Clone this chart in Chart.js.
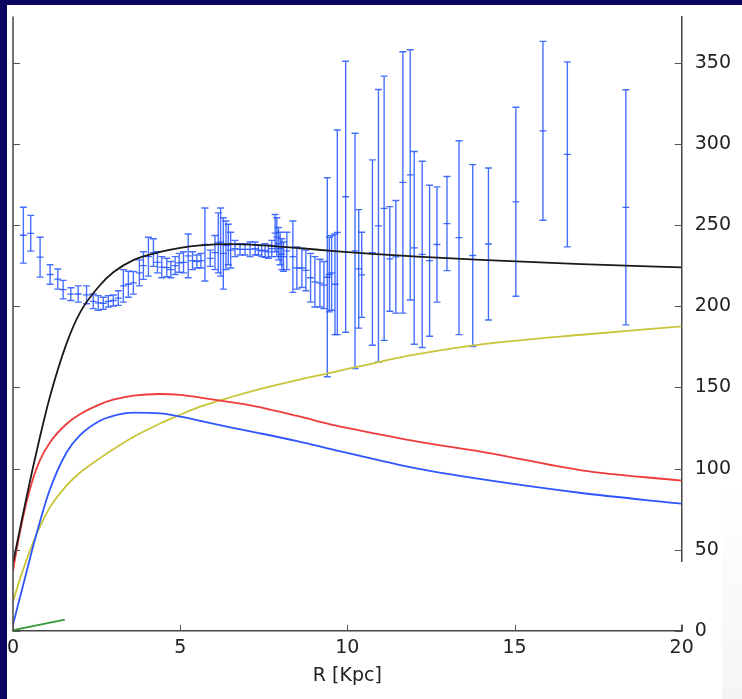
<!DOCTYPE html>
<html>
<head>
<meta charset="utf-8">
<title>Rotation curve</title>
<script src="https://cdn.jsdelivr.net/npm/chart.js@4.4.0/dist/chart.umd.min.js"></script>
<style>
  html, body { margin: 0; padding: 0; background: #fff; }
  #wrap { position: relative; width: 742px; height: 699px; overflow: hidden; }
  #rotation { position: absolute; left: 0; top: 0; }
  #frameTop { position: absolute; left: 0; top: 0; width: 742px; height: 5px; background: #0b0662; }
  #frameLeft { position: absolute; left: 0; top: 0; width: 7px; height: 699px; background: #0b0662; }
  #shade { position: absolute; right: 0; top: 480px; width: 20px; height: 219px;
           background: linear-gradient(to bottom, rgba(0,0,0,0), rgba(0,0,0,0.04)); }
</style>
</head>
<body>
<div id="wrap">
  <canvas id="rotation" width="742" height="699"></canvas>
  <div id="shade"></div>
  <div id="frameTop"></div>
  <div id="frameLeft"></div>
</div>
<script>
// Observed rotation speeds (km/s) with symmetric errors, radius in kpc
const errR = [0.31, 0.53, 0.81, 1.11, 1.34, 1.5, 1.73, 1.95, 2.2, 2.4,
              2.55, 2.7, 2.85, 3.0, 3.15, 3.3, 3.45, 3.6, 3.78, 3.9,
              4.05, 4.2, 4.32, 4.45, 4.6, 4.72, 4.85, 4.97, 5.1, 5.24,
              5.37, 5.5, 5.62, 5.74, 5.9, 6.04, 6.14, 6.21, 6.29, 6.37,
              6.44, 6.51, 6.64, 6.79, 6.94, 7.09, 7.24, 7.34, 7.44, 7.54,
              7.64, 7.74, 7.84, 7.89, 7.94, 7.99, 8.04, 8.09, 8.19, 8.37,
              8.49, 8.64, 8.76, 8.9, 9.03, 9.18, 9.3, 9.4, 9.46, 9.53,
              9.63, 9.7, 9.95, 10.23, 10.34, 10.43, 10.75, 10.93, 11.1, 11.27,
              11.45, 11.66, 11.88, 12.0, 12.24, 12.46, 12.68, 12.98, 13.34, 13.75,
              14.22, 15.04, 15.85, 16.58, 18.33];
const errV = [243.8, 245, 230.3, 219.6, 216.8, 210.3, 207.5, 207.6, 207.1, 203.1,
              202.1, 201.9, 203.1, 203.6, 205.1, 212.6, 213.6, 214.5, 220.6, 225.1,
              230.6, 233.1, 227.1, 224.1, 223.9, 222.6, 225.1, 226.8, 227.1, 231.1,
              228.1, 227.6, 228.1, 238.1, 229.6, 233.1, 239.1, 239.6, 232.6, 237.6,
              238.1, 234.6, 235.6, 235.1, 235.1, 235.1, 235.6, 234.6, 234.1, 234.4,
              233.6, 235.6, 245.1, 242.6, 238.6, 235.6, 232.1, 230.6, 234.1, 230.6,
              223.6, 223.6, 222.1, 217.6, 215.1, 214.3, 213.1, 217.9, 219.6, 220.6,
              213.6, 245.6, 267.5, 234.1, 223.1, 219.4, 233.1, 249.6, 260.4, 229.2,
              230.5, 276.3, 281, 236, 232, 228.1, 238.1, 251, 242.3, 231.3,
              238.4, 264.4, 308.1, 293.6, 261];
const errE = [17.2, 11, 12.3, 6, 6.2, 5.7, 3.9, 5, 5.5, 4.5,
              4.5, 3.7, 3.5, 3.4, 4.5, 10, 8, 7, 8, 8.5,
              12, 8.5, 6.5, 6.5, 5.7, 5, 5.5, 5.8, 6.5, 13.5,
              5.5, 4, 4.5, 22.5, 5, 10.5, 18.5, 21, 22, 15,
              12.5, 11, 5, 3.5, 3.5, 4.5, 4, 3, 3.5, 4.2,
              4, 5, 11.5, 12, 10, 10, 9.5, 9, 11.5, 22,
              13, 12, 12.5, 15, 15.5, 14.7, 14.5, 61.3, 23, 23,
              31, 63, 83.5, 72.5, 36.5, 26.2, 57.1, 84, 81.4, 32.2,
              34.7, 80.5, 77.1, 59.4, 57.4, 46.5, 35.5, 29, 59.7, 56,
              46.8, 58.2, 55.1, 57, 72.4];

// Model curves sampled at these radii
const curveR = [0, 0.1, 0.2, 0.4, 0.6, 0.8, 1.1, 1.6, 2.0, 2.6, 3.0, 3.6,
                4.4, 5.0, 5.6, 6.5, 7.1, 8.5, 9.6, 11, 12.1, 14, 17, 20];
const vTotal = [42, 52, 62, 82, 101, 119, 144, 177, 196, 213, 221, 228.5,
                233.5, 236, 237.5, 238.3, 238, 236, 234, 232, 230.6, 228.6, 226, 224];
const vBulge = [37, 49, 60, 79, 94, 105, 116, 127.5, 133.5, 139.6, 142.5, 145,
                146, 145.5, 143.8, 141, 139, 132.5, 126.8, 121, 116.6, 110.5, 99, 92.6];
const vDisk = [4, 12, 20, 36, 52, 67, 87, 110, 120.5, 129.5, 132.5, 134.5,
               134, 132, 129.5, 125.5, 123, 117, 111.6, 105, 100, 93.5, 85, 78.4];
const vHalo = [18, 25, 31.5, 43.5, 54.5, 64, 76, 89.5, 97.5, 106.5, 112, 119.5,
               127.8, 133.2, 138.2, 144, 147.5, 154.5, 159.5, 166, 170.5, 176.5, 182.5, 187.6];
const gasR = [0, 1.55];
const vGas = [0.5, 7];

const yTicks = [0, 50, 100, 150, 200, 250, 300, 350];

const ERR_BLUE = 'rgba(25, 75, 255, 0.8)';
const CAP = 3.5;

Chart.defaults.font.family = 'DejaVu Sans';

function pts(xs, ys) {
    return xs.map((x, i) => ({ x: x, y: ys[i] }));
}

function curve(label, ys, color, xs) {
    return {
        label: label,
        data: pts(xs || curveR, ys),
        showLine: true,
        borderColor: color,
        borderWidth: 1.8,
        pointRadius: 0,
        cubicInterpolationMode: 'monotone',
        fill: false
    };
}

// vertical error bars with caps, drawn through the chart scales
const errorBars = {
    id: 'errorBars',
    beforeDatasetsDraw(chart) {
        const { ctx, chartArea: a, scales: { x, y } } = chart;
        ctx.save();
        ctx.beginPath();
        ctx.rect(a.left, a.top, a.right - a.left, a.bottom - a.top);
        ctx.clip();
        ctx.strokeStyle = ERR_BLUE;
        ctx.lineWidth = 1.4;
        errR.forEach((r, i) => {
            const px = x.getPixelForValue(r);
            const top = y.getPixelForValue(errV[i] + errE[i]);
            const bot = y.getPixelForValue(errV[i] - errE[i]);
            ctx.beginPath();
            ctx.moveTo(px, top);
            ctx.lineTo(px, bot);
            ctx.moveTo(px - CAP, top);
            ctx.lineTo(px + CAP, top);
            ctx.moveTo(px - CAP, bot);
            ctx.lineTo(px + CAP, bot);
            ctx.stroke();
        });
        ctx.restore();
    }
};

// matplotlib style: ticks pointing inwards, left spine without labels
const innerTicks = {
    id: 'innerTicks',
    afterDraw(chart) {
        const { ctx, chartArea: a, scales: { x, y } } = chart;
        ctx.save();
        ctx.strokeStyle = '#444';
        ctx.lineWidth = 1.5;
        ctx.beginPath();
        ctx.moveTo(a.left, a.top);
        ctx.lineTo(a.left, a.bottom);
        ctx.stroke();

        ctx.strokeStyle = '#555';
        ctx.lineWidth = 1;
        ctx.beginPath();
        yTicks.forEach(v => {
            const py = Math.round(y.getPixelForValue(v)) + 0.5;
            ctx.moveTo(a.left, py);
            ctx.lineTo(a.left + 7, py);
            ctx.moveTo(a.right, py);
            ctx.lineTo(a.right - 7, py);
        });
        x.ticks.forEach(t => {
            const px = Math.round(x.getPixelForValue(t.value)) + 0.5;
            ctx.moveTo(px, a.bottom);
            ctx.lineTo(px, a.bottom - 6);
        });
        ctx.stroke();

        // the right spine is broken just above zero in the original figure
        const g1 = y.getPixelForValue(42.5);
        const g2 = y.getPixelForValue(4);
        ctx.fillStyle = '#fff';
        ctx.fillRect(a.right - 2, g1, 4, g2 - g1);
        ctx.restore();
    }
};

const ctx = document.getElementById('rotation').getContext('2d');
new Chart(ctx, {
    type: 'scatter',
    data: {
        datasets: [
            curve('Total', vTotal, '#1a1a1a'),
            curve('Bulge', vBulge, '#ee3b3b'),
            curve('Disk', vDisk, '#2f55ff'),
            curve('Halo', vHalo, '#c9c53a'),
            curve('Gas', vGas, '#3a963a', gasR),
            {
                label: 'Observed',
                data: pts(errR, errV),
                pointStyle: 'line',
                pointRadius: 3.5,
                pointBorderWidth: 1.3,
                borderColor: ERR_BLUE,
                showLine: false
            }
        ]
    },
    options: {
        responsive: false,
        animation: false,
        events: [],
        layout: { padding: { left: 13, top: 0, right: 0, bottom: 0 } },
        plugins: {
            legend: { display: false },
            tooltip: { enabled: false }
        },
        scales: {
            x: {
                type: 'linear',
                position: 'bottom',
                min: 0,
                max: 20,
                grid: { display: false },
                border: { display: true, color: '#444', width: 1.5 },
                ticks: {
                    stepSize: 5,
                    maxRotation: 0,
                    padding: -2,
                    color: '#222',
                    font: { size: 19 }
                },
                title: {
                    display: true,
                    text: 'R [Kpc]',
                    color: '#222',
                    font: { size: 19 },
                    padding: { top: 0, bottom: 12 }
                },
                afterFit: s => { s.height = 68; }
            },
            y: {
                type: 'linear',
                position: 'right',
                min: 0,
                max: 378.6,
                grid: { display: false },
                border: { display: true, color: '#444', width: 1.5 },
                ticks: {
                    stepSize: 50,
                    includeBounds: false,
                    padding: 5,
                    color: '#222',
                    font: { size: 19 }
                },
                afterFit: s => { s.width = 60.3; }
            }
        }
    },
    plugins: [errorBars, innerTicks]
});
</script>
</body>
</html>
